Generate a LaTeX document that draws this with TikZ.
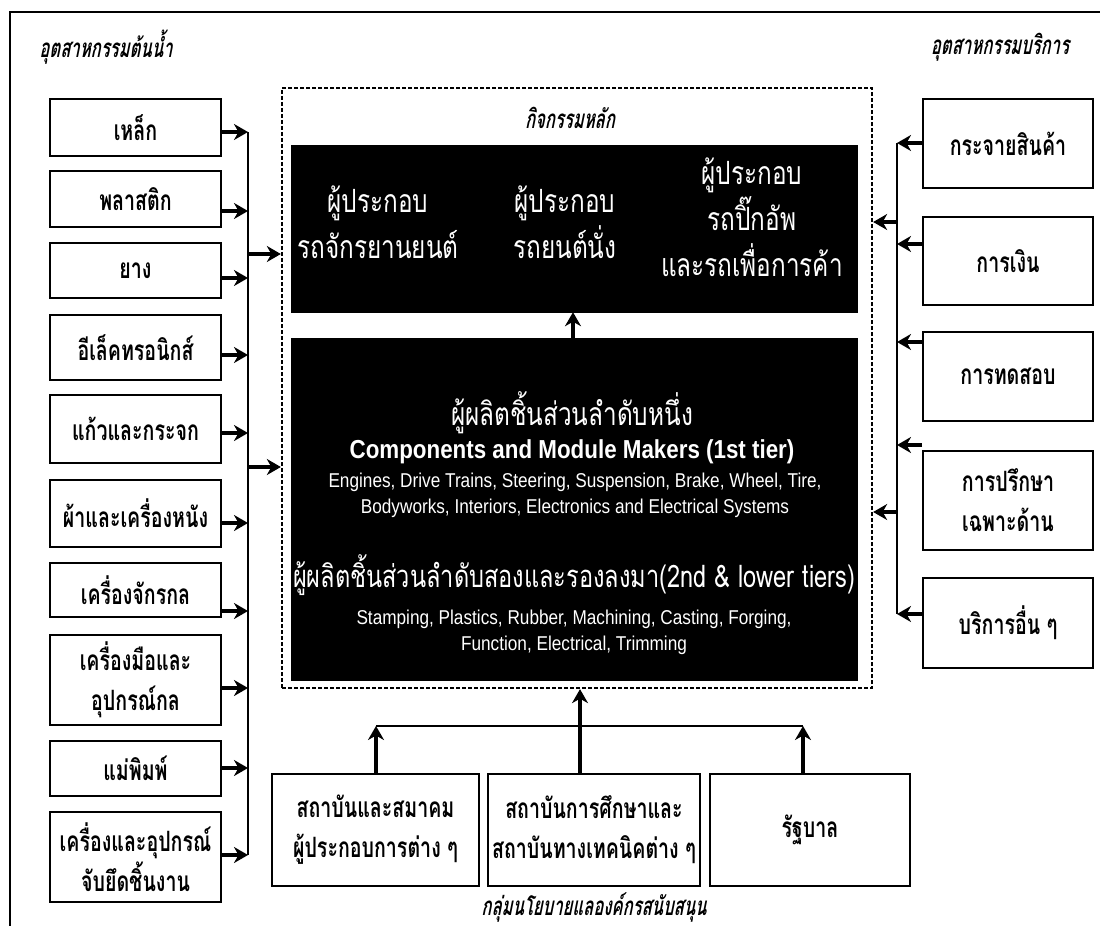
\documentclass[tikz,border=0pt]{standalone}
\usepackage{fontspec}
\usetikzlibrary{arrows.meta}
\newfontfamily\thaifont[Script=Thai,FakeStretch=0.7]{Loma}
\newfontfamily\thaiwfont[Script=Thai,FakeStretch=0.76]{Loma}
\newfontfamily\thaiitfont[Script=Thai,FakeSlant=0.2,FakeStretch=0.64]{Loma}
\newfontfamily\engfont[FakeStretch=0.86]{Liberation Sans}
\begin{document}
\begin{tikzpicture}[x=1pt,y=-1pt,
  box/.style={draw, line width=1.8pt, inner sep=0pt, align=center,
    font=\thaifont\bfseries\fontsize{28}{40}\selectfont},
  blackbox/.style={fill=black, draw=black, inner sep=0pt},
  wthai/.style={text=white, align=center, inner sep=0pt,
    font=\thaiwfont\fontsize{32}{46}\selectfont},
  weng/.style={text=white, align=center, inner sep=0pt,
    font=\engfont\fontsize{20}{26}\selectfont},
  header/.style={inner sep=0pt, font=\thaiitfont\bfseries\fontsize{26}{28}\selectfont},
  thickarrow/.style={line width=3.6pt, -{Stealth[length=14pt,width=16pt,inset=4.5pt]}},
  bus/.style={line width=1.6pt},
]
\useasboundingbox (0,0) rectangle (1100,926);
% outer frame (left and top edges)
\draw[line width=2.4pt] (10,926) -- (10,12) -- (1100,12);

% headers
\node[header] (hleft) at (106,47) {อุตสาหกรรมต้นน้ำ};
\node[header] (hright) at (1000,47) {อุตสาหกรรมบริการ};
\node[header] (hmain) at (570,118) {กิจกรรมหลัก};
\node[header] (hbottom) at (594,907) {กลุ่มนโยบายแลองค์กรสนับสนุน};

% dashed frame
\node[draw, line width=2.3pt, dash pattern=on 4pt off 2pt, inner sep=0pt,
  minimum width=590pt, minimum height=600pt] (dash) at (577,388) {};

% black boxes
\node[blackbox, minimum width=566pt, minimum height=167pt] (topbox) at (574,228.5) {};
\node[blackbox, minimum width=566pt, minimum height=342pt] (lowbox) at (574,509) {};
\draw[thickarrow] (lowbox.north -| 573,0) -- (topbox.south -| 573,0);

\node[wthai] (c1) at (378,222) {ผู้ประกอบ\\รถจักรยานยนต์};
\node[wthai] (c2) at (565,222) {ผู้ประกอบ\\รถยนต์นั่ง};
\node[wthai] (c3) at (752,217) {ผู้ประกอบ\\รถปิ๊กอัพ\\และรถเพื่อการค้า};

\node[wthai] (t1) at (572,413) {ผู้ผลิตชิ้นส่วนลำดับหนึ่ง};
\node[weng, font=\engfont\bfseries\fontsize{26}{30}\selectfont] (t2) at (572,452) {Components and Module Makers (1st tier)};
\node[weng] (t3) at (575,495) {Engines, Drive Trains, Steering, Suspension, Brake, Wheel, Tire,\\Bodyworks, Interiors, Electronics and Electrical Systems};
\node[wthai, font=\thaiwfont\fontsize{31}{46}\selectfont] (t5) at (574,575) {ผู้ผลิตชิ้นส่วนลำดับสองและรองลงมา(2nd \& lower tiers)};
\node[weng] (t6) at (574,632) {Stamping, Plastics, Rubber, Machining, Casting, Forging,\\Function, Electrical, Trimming};

% left boxes
\foreach \n/\t/\b/\a/\txt in {
  1/99/156/132/{เหล็ก},
  2/171/227/211/{พลาสติก},
  3/243/298/278/{ยาง},
  4/315/380/355/{อีเล็คทรอนิกส์},
  5/395/463/433/{แก้วและกระจก},
  6/480/547/523/{ผ้าและเครื่องหนัง},
  7/563/617/611/{เครื่องจักรกล},
  8/635/725/688/{เครื่องมือและ\\อุปกรณ์กล},
  9/741/796/768/{แม่พิมพ์},
  10/812/902/855/{เครื่องและอุปกรณ์\\จับยึดชิ้นงาน}} {
  \pgfmathsetmacro\c{(\t+\b)/2}
  \pgfmathsetmacro\h{\b-\t}
  \node[box, minimum width=171pt, minimum height=\h pt] (L\n) at (135.5,\c) {\txt};
  \coordinate (LB\n) at (248,\a);
  \draw[thickarrow] (L\n.east |- LB\n) -- (LB\n);
}
\draw[bus] (LB1) -- (LB10);
\coordinate (LJ1) at (248,254);
\coordinate (LJ2) at (248,467);
\draw[thickarrow] (LJ1) -- (dash.west |- LJ1);
\draw[thickarrow] (LJ2) -- (dash.west |- LJ2);

% right boxes
\foreach \n/\t/\b/\a/\txt in {
  1/99/188/143/{กระจายสินค้า},
  2/217/305/244/{การเงิน},
  3/332/421/342/{การทดสอบ},
  4/451/550/445/{การปรึกษา\\เฉพาะด้าน},
  5/578/668/614/{บริการอื่น ๆ}} {
  \pgfmathsetmacro\c{(\t+\b)/2}
  \pgfmathsetmacro\h{\b-\t}
  \node[box, minimum width=170pt, minimum height=\h pt] (R\n) at (1008,\c) {\txt};
  \coordinate (RB\n) at (897,\a);
  \draw[thickarrow] (R\n.west |- RB\n) -- (RB\n);
}
\draw[bus] (RB1) -- (RB5);
\coordinate (RJ1) at (897,222);
\coordinate (RJ2) at (897,512);
\draw[thickarrow] (RJ1) -- (dash.east |- RJ1);
\draw[thickarrow] (RJ2) -- (dash.east |- RJ2);

% bottom boxes
\node[box, minimum width=207pt, minimum height=112pt] (B1) at (375.5,830) {สถาบันและสมาคม\\ผู้ประกอบการต่าง ๆ};
\node[box, minimum width=212pt, minimum height=112pt] (B2) at (594,830) {สถาบันการศึกษาและ\\สถาบันทางเทคนิคต่าง ๆ};
\node[box, minimum width=200pt, minimum height=112pt] (B3) at (810,830) {รัฐบาล};
\coordinate (BJ1) at (376,726);
\coordinate (BJ3) at (803,726);
\draw[bus] (BJ1) -- (BJ3);
\draw[thickarrow] (B1.north -| BJ1) -- (BJ1);
\draw[thickarrow] (B3.north -| BJ3) -- (BJ3);
\draw[thickarrow] (B2.north -| 580,0) -- (dash.south -| 580,0);
\end{tikzpicture}
\end{document}
